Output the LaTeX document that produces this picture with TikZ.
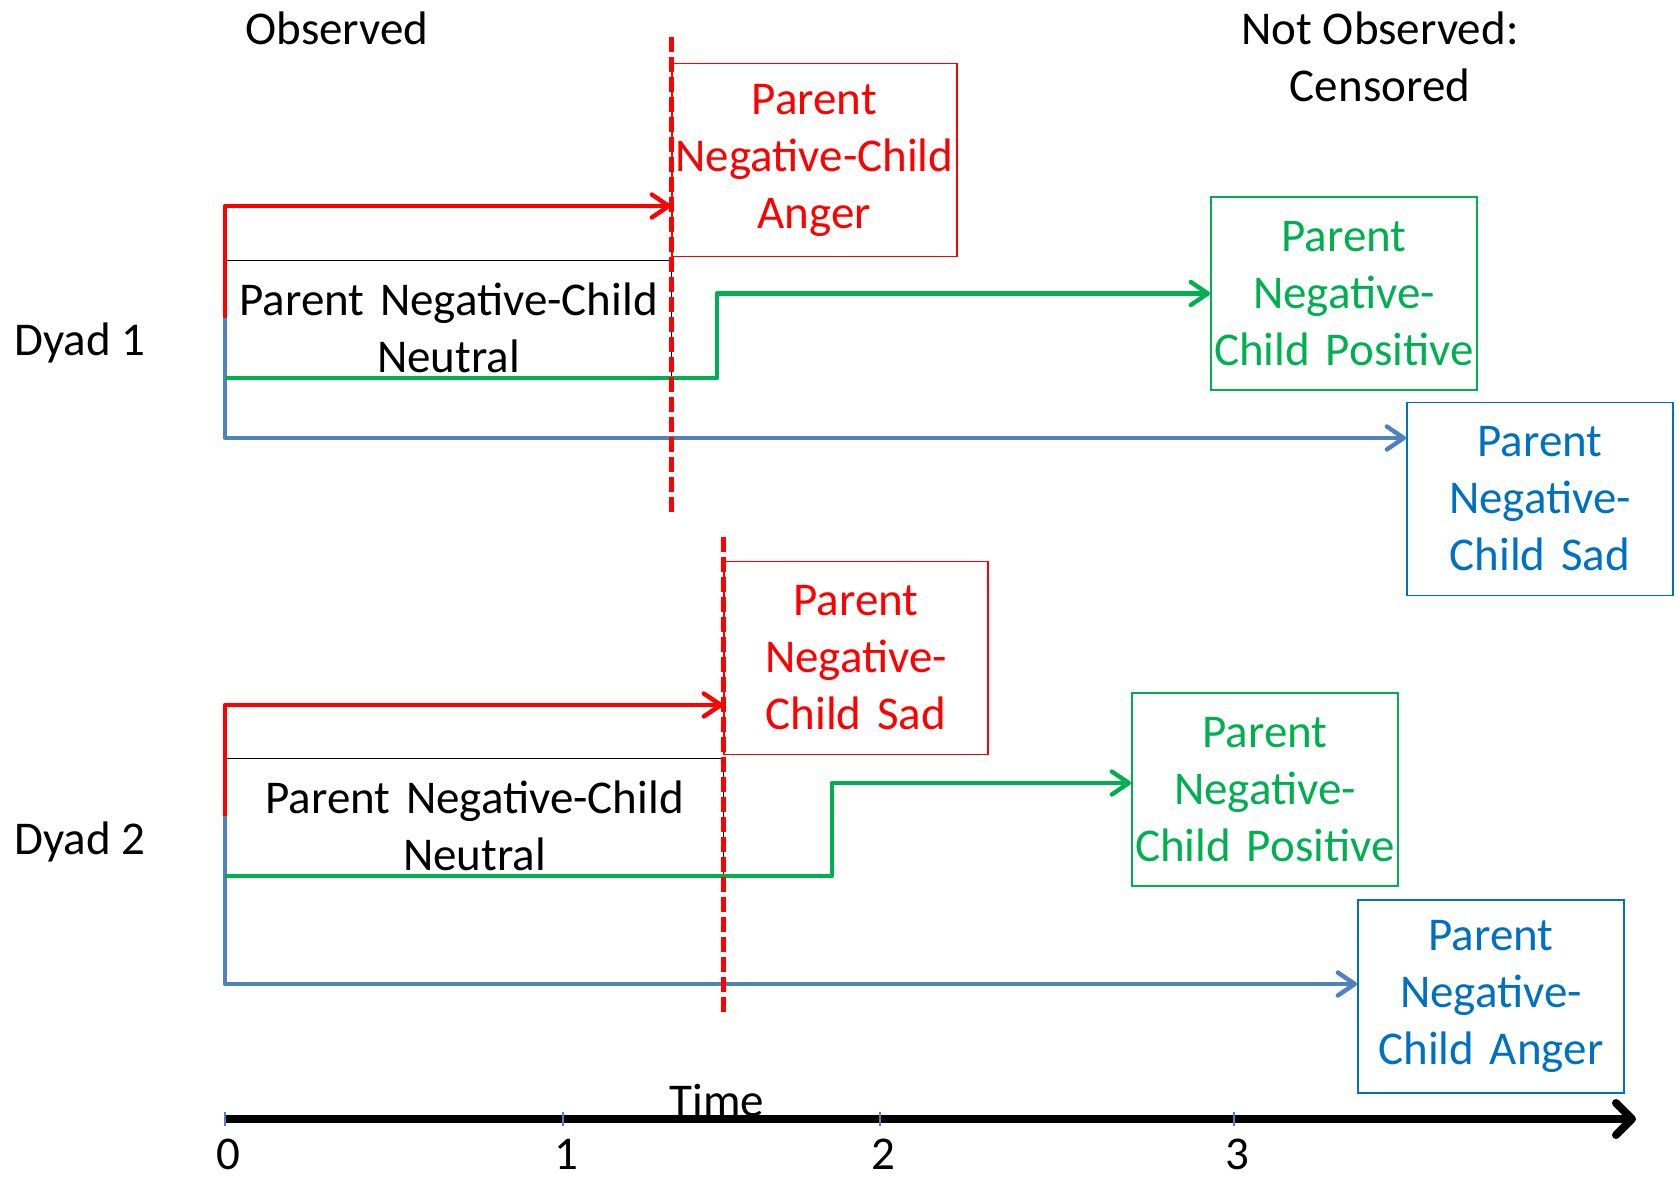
\documentclass[tikz,border=0pt]{standalone}
\usepackage{fontspec}
\setmainfont{Carlito}
\usepackage{xcolor}
\usepackage{tikz}
\usetikzlibrary{arrows.meta}
\usetikzlibrary{positioning}
\definecolor{negred}{HTML}{FF0000}
\definecolor{posgreen}{HTML}{00B050}
\definecolor{sadblue}{HTML}{4F81BD}
\definecolor{boxblue}{HTML}{0070C0}
\newcommand{\dyadfont}{\fontsize{23.5pt}{28.5pt}\selectfont}
\tikzset{>={Straight Barb[length=8.5pt, width=11.5pt, round]}}
\tikzstyle{outbox} = [rectangle, draw, line width=0.9pt, inner sep=0, minimum height=96.5pt, text width=133pt, align=center, anchor=west]
\tikzstyle{statebox} = [rectangle, draw=black, line width=0.6pt, inner sep=0, align=center, anchor=north west]
\tikzstyle{trans} = [->, line width=2.2pt, line join=round]
\tikzstyle{censor} = [negred, line width=2.5pt, dash pattern=on 7.5pt off 2.5pt]
\tikzstyle{timeaxis} = [-{Straight Barb[length=8pt, width=16pt, round]}, line width=4pt, black]

\begin{document}
\begin{tikzpicture}[x=0.5pt, y=-0.5pt, font=\dyadfont]
\useasboundingbox (0,0) rectangle (1679,1177);
\node [draw=none] (obs) at (337,28) {Observed};
\node [draw=none, align=center] (cens) at (1380,57) {Not Observed:\\Censored};
\node [draw=none] (dyad1) at (80,343) {Dyad 1};
\node [draw=none] (dyad2) at (80,842) {Dyad 2};

% dyad 1
\node [outbox, draw=negred, text=negred, text width=142.5pt] (anger1) at (671,160) {Parent\\Negative-Child\\Anger};
\node [outbox, draw=posgreen, text=posgreen] (pos1) at (1210,293.5) {Parent\\Negative-\\Child Positive};
\node [outbox, draw=boxblue, text=boxblue] (sad1) at (1406,499) {Parent\\Negative-\\Child Sad};
\node [statebox, text width=223pt] (neut1) at (225,260) {\rule{0pt}{27.5pt}Parent Negative-Child\\Neutral\rule[-3pt]{0pt}{3pt}};
\coordinate (start1) at (225,318);
\coordinate (red1) at (225,206);
\coordinate (blue1) at (225,438);
\coordinate (green1) at (225,378);
\coordinate (step1) at (717,378);
\coordinate (cut1a) at (671,37);
\coordinate (cut1b) at (671,516);
\draw [trans, negred] (start1) -- (red1) -- (red1 -| anger1.west);
\draw [trans, sadblue] (start1) -- (blue1) -- (blue1 -| sad1.west);
\draw [trans, posgreen] (green1) -- (step1) |- (pos1.west);
\draw [censor] (cut1a) -- (cut1b);

% dyad 2
\node [outbox, draw=negred, text=negred, text width=132pt] (sad2) at (723,658) {Parent\\Negative-\\Child Sad};
\node [outbox, draw=posgreen, text=posgreen] (pos2) at (1131,789.5) {Parent\\Negative-\\Child Positive};
\node [outbox, draw=boxblue, text=boxblue] (anger2) at (1357,996.5) {Parent\\Negative-\\Child Anger};
\node [statebox, text width=249pt] (neut2) at (225,758) {\rule{0pt}{27.5pt}Parent Negative-Child\\Neutral\rule[-3pt]{0pt}{3pt}};
\coordinate (start2) at (225,816);
\coordinate (red2) at (225,705);
\coordinate (blue2) at (225,984);
\coordinate (green2) at (225,876);
\coordinate (step2) at (832,876);
\coordinate (rise2) at (832,783);
\coordinate (cut2a) at (723,537);
\coordinate (cut2b) at (723,1015);
\draw [trans, negred] (start2) -- (red2) -- (red2 -| sad2.west);
\draw [trans, sadblue] (start2) -- (blue2) -- (blue2 -| anger2.west);
\draw [trans, posgreen] (green2) -- (step2) -- (rise2) -- (rise2 -| pos2.west);
\draw [censor] (cut2a) -- (cut2b);

% time axis
\coordinate (axstart) at (225,1119);
\coordinate (axend) at (1636,1119);
\draw [timeaxis] (axstart) -- (axend);
\foreach \x/\n in {225/0, 563/1, 880/2, 1234/3} {
  \draw [sadblue, line width=0.6pt] (\x,1112) -- (\x,1126);
  \node [inner sep=1pt] (tick\n) at (\x+3,1154) {\n};
}
\node [anchor=base] (time) at (717,1116) {Time};
\end{tikzpicture}
\end{document}
